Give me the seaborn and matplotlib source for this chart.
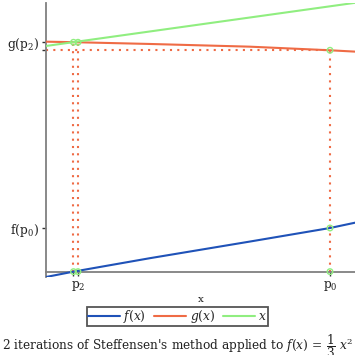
import numpy as np
import pandas as pd
import matplotlib
matplotlib.use("Agg")
import matplotlib.pyplot as plt
import seaborn as sns

# ---- data ----
x_pts = [0.0, 0.887, 3.35, 6.58, 9.161, 10.0]
f_vals = [-0.20, 0.00, 0.50, 1.12, 1.624, 1.829]
g_vals = [8.560, 8.542, 8.475, 8.374, 8.240, 8.188]
id_x = [0.0, 10.0]
id_vals = [8.400, 10.012]

p0, p1, p2 = 9.161, 0.887, 1.032
f_p0 = 1.624
g_p0 = 8.240
g_p2 = 8.538
g_p1 = 8.538

xtick_pos = [p1, p2, p0]
xtick_lab = ["", r"$\mathrm{p_2}$", r"$\mathrm{p_0}$"]
ytick_pos = [f_p0, g_p0, g_p2]
ytick_lab = [r"$\mathrm{f(p_0)}$", "", r"$\mathrm{g(p_2)}$"]

mark_x = [p0, p0, p0, p1, p2, p1, p2]
mark_y = [g_p0, f_p0, 0.0, 0.0, 0.0, g_p1, g_p2]

title = r"2 iterations of Steffensen's method applied to $f(x)\,=\,\dfrac{1}{3}\ x^2$"

# ---- style ----
sns.set_theme(style="white")
plt.rcParams["font.family"] = ["DejaVu Serif"]
plt.rcParams["mathtext.fontset"] = "dejavuserif"

C_F = "#1f52b8"
C_G = "#ef6b45"
C_X = "#90ee80"
FS = 8.8

fig = plt.figure(figsize=(3.55, 3.55), dpi=100)
ax = fig.add_axes([46 / 355, 1 - 277 / 355, 310 / 355, 274 / 355])

df_f = pd.DataFrame({"x": x_pts, "y": f_vals})
df_g = pd.DataFrame({"x": x_pts, "y": g_vals})
df_i = pd.DataFrame({"x": id_x, "y": id_vals})

sns.lineplot(data=df_f, x="x", y="y", ax=ax, color=C_F, lw=1.5, label=r"$f(x)$", legend=False, zorder=3)
sns.lineplot(data=df_g, x="x", y="y", ax=ax, color=C_G, lw=1.5, label=r"$g(x)$", legend=False, zorder=3)
sns.lineplot(data=df_i, x="x", y="y", ax=ax, color=C_X, lw=1.5, label=r"$x$", legend=False, zorder=3)

dot = (0, (1, 2.5))
for px, top in [(p0, g_p0), (p1, g_p1), (p2, g_p2)]:
    ax.plot([px, px], [0, top], color=C_G, lw=1.5, linestyle=dot, zorder=2)
ax.plot([0, p0], [g_p0, g_p0], color=C_G, lw=1.5, linestyle=dot, zorder=2)

sns.scatterplot(x=mark_x, y=mark_y, ax=ax, marker="o", s=16, facecolor="none",
                edgecolor=C_X, linewidth=1.0, zorder=4, legend=False)

ax.set_xlim(0, 10)
ax.set_ylim(-0.2, 10)
for s in ["top", "right"]:
    ax.spines[s].set_visible(False)
ax.spines["bottom"].set_position(("data", 0))
for s in ["left", "bottom"]:
    ax.spines[s].set_color("#808080")
    ax.spines[s].set_linewidth(1.3)

ax.set_xticks(xtick_pos)
ax.set_xticklabels(xtick_lab)
ax.set_yticks(ytick_pos)
ax.set_yticklabels(ytick_lab)
ax.tick_params(axis="both", direction="out", length=3, width=1, color="#333333",
               labelsize=FS, pad=2, labelcolor="#222222")
ax.tick_params(axis="both", which="both", bottom=True, left=True)

ax.set_xlabel("x", fontsize=7.5, color="#222222")
ax.set_ylabel("")
ax.xaxis.set_label_coords(0.5, -0.065)
ax.xaxis.label.set_va("top")

handles, labels = ax.get_legend_handles_labels()
leg = fig.legend(handles, labels, loc="center", bbox_to_anchor=(0.5, 1 - 316.5 / 355),
                 ncol=3, fontsize=FS, frameon=True, fancybox=False, framealpha=1,
                 edgecolor="#555555", borderpad=0.05, handlelength=2.6,
                 handletextpad=0.3, columnspacing=0.65, borderaxespad=0)
leg.get_frame().set_linewidth(1.3)

fig.text(0.5, 1 - 350 / 355, title, ha="center", va="baseline", fontsize=8.7, color="#222222")

fig.savefig("out.png", dpi=100)
